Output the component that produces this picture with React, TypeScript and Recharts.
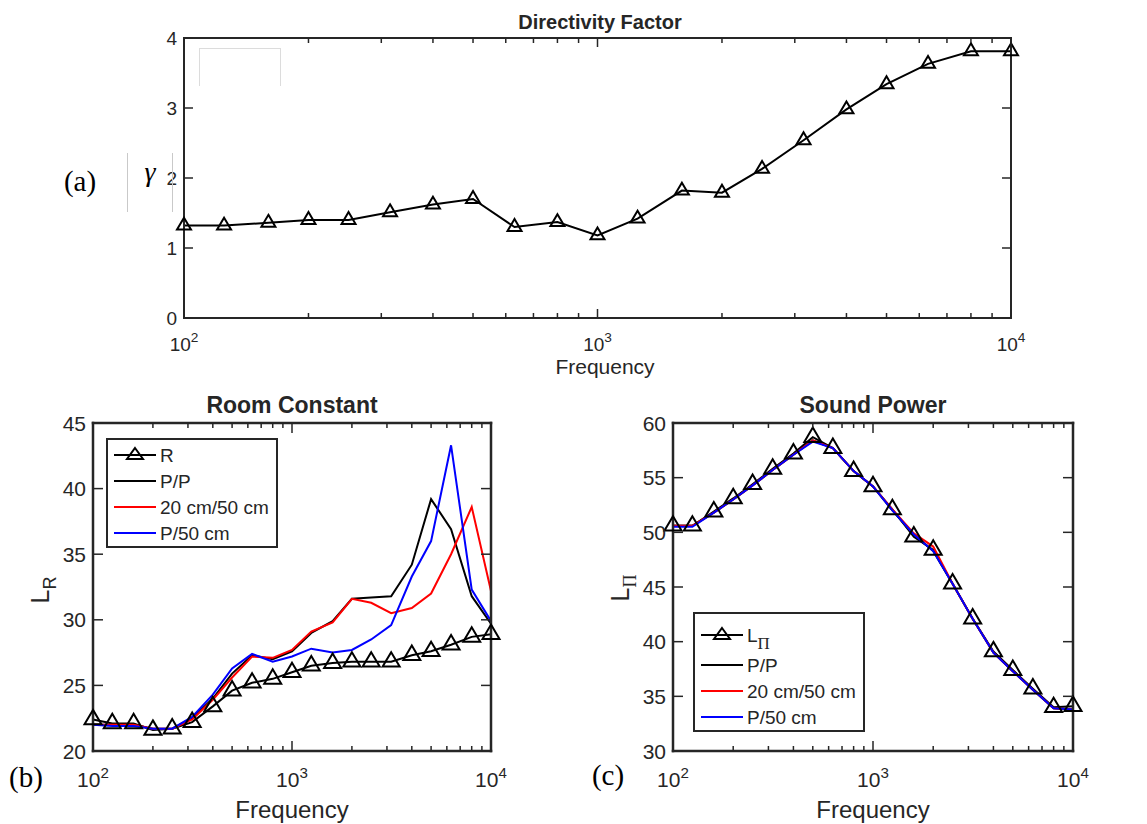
import React from 'react';
import { LineChart, Line, XAxis, YAxis, Legend } from 'recharts';

// 1/3-octave band centre frequencies (Hz)
const FREQ = [100, 125, 160, 200, 250, 315, 400, 500, 630, 800, 1000, 1250, 1600, 2000, 2500, 3150, 4000, 5000, 6300, 8000, 10000];

// (a) directivity factor
const GAMMA = [1.32, 1.32, 1.36, 1.4, 1.4, 1.51, 1.62, 1.7, 1.3, 1.37, 1.18, 1.42, 1.82, 1.79, 2.13, 2.54, 2.98, 3.34, 3.63, 3.81, 3.81];

// (b) room constant levels
const ROOM_R = [22.4, 22.1, 22.1, 21.6, 21.7, 22.2, 23.4, 24.6, 25.2, 25.5, 26.0, 26.5, 26.7, 26.8, 26.8, 26.8, 27.3, 27.6, 28.1, 28.7, 28.9];
const ROOM_PP = [22.0, 22.0, 22.0, 21.7, 21.7, 22.5, 24.0, 25.9, 27.3, 27.0, 27.6, 29.0, 29.9, 31.6, 31.7, 31.8, 34.2, 39.2, 36.9, 31.8, 29.7];
const ROOM_20_50 = [22.0, 22.0, 22.0, 21.7, 21.7, 22.4, 23.9, 25.6, 27.2, 27.1, 27.7, 29.1, 29.8, 31.6, 31.3, 30.5, 30.9, 32.0, 35.0, 38.6, 32.2];
const ROOM_P_50 = [22.0, 21.9, 21.9, 21.7, 21.7, 22.6, 24.3, 26.3, 27.4, 26.8, 27.2, 27.8, 27.5, 27.7, 28.5, 29.6, 33.3, 36.0, 43.3, 32.3, 29.9];

// (c) sound power levels
const POWER_L = [50.6, 50.6, 51.9, 53.1, 54.4, 55.8, 57.2, 58.7, 57.7, 55.6, 54.2, 52.1, 49.6, 48.4, 45.3, 42.1, 39.1, 37.4, 35.7, 34.0, 34.1];
const POWER_PP = [50.6, 50.6, 51.8, 53.0, 54.3, 55.7, 57.1, 58.4, 57.7, 55.6, 54.2, 52.0, 49.8, 48.3, 45.3, 42.1, 39.0, 37.3, 35.6, 33.9, 33.8];
const POWER_20_50 = [50.6, 50.6, 51.8, 53.0, 54.3, 55.7, 57.1, 58.4, 57.7, 55.6, 54.2, 52.1, 49.9, 48.7, 45.3, 42.1, 39.0, 37.3, 35.6, 33.9, 33.8];
const POWER_P_50 = [50.5, 50.5, 51.8, 53.0, 54.3, 55.7, 57.1, 58.3, 57.7, 55.6, 54.2, 52.0, 49.8, 48.3, 45.3, 42.1, 39.0, 37.3, 35.6, 33.9, 33.8];

// ticks
const X_TICKS = [100, 200, 300, 400, 500, 600, 700, 800, 900, 1000, 2000, 3000, 4000, 5000, 6000, 7000, 8000, 9000, 10000];
const GAMMA_TICKS = [0, 1, 2, 3, 4];
const ROOM_TICKS = [20, 25, 30, 35, 40, 45];
const POWER_TICKS = [30, 35, 40, 45, 50, 55, 60];

const dirData = FREQ.map((f, i) => ({ f, gamma: GAMMA[i] }));
const roomData = FREQ.map((f, i) => ({ f, r: ROOM_R[i], pp: ROOM_PP[i], a: ROOM_20_50[i], b: ROOM_P_50[i] }));
const powerData = FREQ.map((f, i) => ({ f, l: POWER_L[i], pp: POWER_PP[i], a: POWER_20_50[i], b: POWER_P_50[i] }));

const roomSeries = [
  { key: 'r', name: 'R', sub: '', color: '#000000', marker: true },
  { key: 'pp', name: 'P/P', sub: '', color: '#000000', marker: false },
  { key: 'a', name: '20 cm/50 cm', sub: '', color: '#ff0000', marker: false },
  { key: 'b', name: 'P/50 cm', sub: '', color: '#0000ff', marker: false },
];
const powerSeries = [
  { key: 'l', name: 'L', sub: '\u03A0', color: '#000000', marker: true },
  { key: 'pp', name: 'P/P', sub: '', color: '#000000', marker: false },
  { key: 'a', name: '20 cm/50 cm', sub: '', color: '#ff0000', marker: false },
  { key: 'b', name: 'P/50 cm', sub: '', color: '#0000ff', marker: false },
];

const AXIS = '#262626';
const SANS = '"Liberation Sans", Arial, Helvetica, sans-serif';
const SERIF = '"Liberation Serif", "Times New Roman", serif';

const isDecade = (v: number) => Math.abs(Math.log10(v) - Math.round(Math.log10(v))) < 1e-9;

// inward MATLAB-style tick marks on the x axes; labels only on the bottom one
const makeXTick = (side: 'bottom' | 'top', major: number, minor: number, fontSize: number, gap: number) => (props: any) => {
  const { x, y, payload } = props;
  const v = payload.value;
  const big = isDecade(v);
  const dir = side === 'bottom' ? -1 : 1;
  return (
    <g>
      <line x1={x} y1={y} x2={x} y2={y + dir * (big ? major : minor)} stroke={AXIS} strokeWidth={1.5} />
      {side === 'bottom' && big && (
        <text x={x} y={y + gap} textAnchor="middle" fontSize={fontSize} fill={AXIS} fontFamily={SANS}>
          10
          <tspan dy={-fontSize * 0.45} fontSize={fontSize * 0.72}>{Math.round(Math.log10(v))}</tspan>
        </text>
      )}
    </g>
  );
};

const makeYTick = (side: 'left' | 'right', len: number, fontSize: number) => (props: any) => {
  const { x, y, payload } = props;
  const dir = side === 'left' ? 1 : -1;
  return (
    <g>
      <line x1={x} y1={y} x2={x + dir * len} y2={y} stroke={AXIS} strokeWidth={1.5} />
      {side === 'left' && (
        <text x={x - 7} y={y} dy="0.36em" textAnchor="end" fontSize={fontSize} fill={AXIS} fontFamily={SANS}>
          {payload.value}
        </text>
      )}
    </g>
  );
};

const makeTriangle = (w: number) => (props: any) => {
  const { cx, cy, index } = props;
  if (cx == null || cy == null) return <g key={index} />;
  const h = w * 0.85;
  const d = `M${cx},${cy - (2 * h) / 3} L${cx + w / 2},${cy + h / 3} L${cx - w / 2},${cy + h / 3} Z`;
  return <path key={index} d={d} fill="none" stroke="#000" strokeWidth={2} strokeLinejoin="miter" />;
};

const Text = ({ x, y, size, bold, serif, italic, children, rotate }: any) => (
  <div
    style={{
      position: 'absolute',
      left: x,
      top: y,
      transform: `translate(-50%, -50%)${rotate ? ' rotate(-90deg)' : ''}`,
      fontFamily: serif ? SERIF : SANS,
      fontSize: size,
      fontWeight: bold ? 'bold' : 'normal',
      fontStyle: italic ? 'italic' : 'normal',
      color: serif ? '#000' : AXIS,
      whiteSpace: 'nowrap',
      lineHeight: 1,
    }}
  >
    {children}
  </div>
);

const makeLegend = (series: any[], rowHeights: number[], padTop: number, w: number, h: number) => (props: any) => {
  const payload = props.payload || [];
  return (
    <div
      style={{
        width: w,
        height: h,
        boxSizing: 'border-box',
        border: `2px solid ${AXIS}`,
        background: '#fff',
        paddingTop: padTop,
        fontFamily: SANS,
        fontSize: 19,
        color: AXIS,
      }}
    >
      {series.map((s, i) => {
        const entry = payload.find((p: any) => p.dataKey === s.key);
        const color = entry ? entry.color : s.color;
        return (
          <div key={s.key} style={{ height: rowHeights[i], display: 'flex', alignItems: 'center' }}>
            <svg width={50} height={20} style={{ flex: 'none' }}>
              <line x1={6} y1={10} x2={48} y2={10} stroke={color} strokeWidth={2} />
              {s.marker && <path d="M27,3 L35,14 L19,14 Z" fill="none" stroke="#000" strokeWidth={2} />}
            </svg>
            <span style={{ marginLeft: 2, lineHeight: 1 }}>
              {s.name}
              {s.sub && (
                <span style={{ fontFamily: SERIF, fontSize: 17, position: 'relative', top: 7 }}>{s.sub}</span>
              )}
            </span>
          </div>
        );
      })}
    </div>
  );
};

const RoomLegend = makeLegend(roomSeries, [26, 26, 26, 26], 2, 172, 110);
const PowerLegend = makeLegend(powerSeries, [34, 26, 26, 26], 4, 172, 120);

export default function App() {
  const frame = { stroke: AXIS, strokeWidth: 2, strokeLinecap: 'square' as const };
  const frameB = { stroke: AXIS, strokeWidth: 2.5, strokeLinecap: 'square' as const };
  return (
    <div style={{ position: 'absolute', left: 0, top: 0, width: 1147, height: 824, background: '#fff', overflow: 'hidden' }}>
      {/* (a) Directivity Factor */}
      <div style={{ position: 'absolute', left: 0, top: 0 }}>
        <LineChart width={1147} height={390} data={dirData} margin={{ top: 37, right: 135, bottom: 42, left: 144 }}>
          <XAxis dataKey="f" type="number" scale="log" domain={[100, 10000]} ticks={X_TICKS} interval={0}
            height={30} tickSize={0} tickMargin={0} tickLine={false} axisLine={frame} tick={makeXTick('bottom', 9, 5, 19, 33)} />
          <XAxis xAxisId="top" orientation="top" dataKey="f" type="number" scale="log" domain={[100, 10000]} allowDataOverflow
            ticks={X_TICKS} interval={0} height={1} tickSize={0} tickMargin={0} tickLine={false} axisLine={frame} tick={makeXTick('top', 9, 5, 19, 0)} />
          <YAxis type="number" domain={[0, 4]} ticks={GAMMA_TICKS} interval={0} width={40} tickSize={0} tickMargin={0}
            tickLine={false} axisLine={frame} tick={makeYTick('left', 9, 19)} />
          <YAxis yAxisId="right" orientation="right" type="number" domain={[0, 4]} allowDataOverflow ticks={GAMMA_TICKS} interval={0}
            width={1} tickSize={0} tickMargin={0} tickLine={false} axisLine={frame} tick={makeYTick('right', 9, 19)} />
          <Line type="linear" dataKey="gamma" name="γ" stroke="#000" strokeWidth={2} dot={makeTriangle(14)} activeDot={false} isAnimationActive={false} />
        </LineChart>
      </div>
      <Text x={600} y={22} size={20} bold>Directivity Factor</Text>
      <Text x={605} y={366} size={21}>Frequency</Text>
      <Text x={80} y={181} size={29} serif>(a)</Text>
      <Text x={150} y={172} size={28} serif italic>γ</Text>
      <div style={{ position: 'absolute', left: 127, top: 153, width: 1, height: 59, background: '#c9c9c9' }} />
      <div style={{ position: 'absolute', left: 172, top: 153, width: 1, height: 59, background: '#c9c9c9' }} />
      <div style={{ position: 'absolute', left: 199, top: 48, width: 80, height: 37, borderTop: '1px solid #dcdcdc', borderLeft: '1px solid #dcdcdc', borderRight: '1px solid #dcdcdc' }} />

      {/* (b) Room Constant */}
      <div style={{ position: 'absolute', left: 0, top: 390 }}>
        <LineChart width={570} height={434} data={roomData} margin={{ top: 32, right: 78, bottom: 33, left: 43 }}>
          <XAxis dataKey="f" type="number" scale="log" domain={[100, 10000]} ticks={X_TICKS} interval={0}
            height={40} tickSize={0} tickMargin={0} tickLine={false} axisLine={frameB} tick={makeXTick('bottom', 10, 5, 21, 36)} />
          <XAxis xAxisId="top" orientation="top" dataKey="f" type="number" scale="log" domain={[100, 10000]} allowDataOverflow
            ticks={X_TICKS} interval={0} height={1} tickSize={0} tickMargin={0} tickLine={false} axisLine={frameB} tick={makeXTick('top', 10, 5, 21, 0)} />
          <YAxis type="number" domain={[20, 45]} ticks={ROOM_TICKS} interval={0} width={50} tickSize={0} tickMargin={0}
            tickLine={false} axisLine={frameB} tick={makeYTick('left', 10, 21)} />
          <YAxis yAxisId="right" orientation="right" type="number" domain={[20, 45]} allowDataOverflow ticks={ROOM_TICKS} interval={0}
            width={1} tickSize={0} tickMargin={0} tickLine={false} axisLine={frameB} tick={makeYTick('right', 10, 21)} />
          {roomSeries.map((s) => (
            <Line key={s.key} type="linear" dataKey={s.key} name={s.name} stroke={s.color} strokeWidth={2}
              dot={s.marker ? makeTriangle(17) : false} activeDot={false} isAnimationActive={false} />
          ))}
          <Legend layout="vertical" align="center" verticalAlign="middle" content={RoomLegend}
            wrapperStyle={{ left: 106, top: 48, width: 172, height: 110 }} />
        </LineChart>
      </div>
      <Text x={292} y={405} size={23} bold>Room Constant</Text>
      <Text x={292} y={810} size={24}>Frequency</Text>
      <Text x={40} y={590} size={25} rotate>
        L<span style={{ fontSize: 18, position: 'relative', top: 7 }}>R</span>
      </Text>
      <Text x={26} y={777} size={29} serif>(b)</Text>

      {/* (c) Sound Power */}
      <div style={{ position: 'absolute', left: 570, top: 390 }}>
        <LineChart width={577} height={434} data={powerData} margin={{ top: 32, right: 73, bottom: 33, left: 53 }}>
          <XAxis dataKey="f" type="number" scale="log" domain={[100, 10000]} ticks={X_TICKS} interval={0}
            height={40} tickSize={0} tickMargin={0} tickLine={false} axisLine={frameB} tick={makeXTick('bottom', 10, 5, 21, 36)} />
          <XAxis xAxisId="top" orientation="top" dataKey="f" type="number" scale="log" domain={[100, 10000]} allowDataOverflow
            ticks={X_TICKS} interval={0} height={1} tickSize={0} tickMargin={0} tickLine={false} axisLine={frameB} tick={makeXTick('top', 10, 5, 21, 0)} />
          <YAxis type="number" domain={[30, 60]} ticks={POWER_TICKS} interval={0} width={50} tickSize={0} tickMargin={0}
            tickLine={false} axisLine={frameB} tick={makeYTick('left', 10, 21)} />
          <YAxis yAxisId="right" orientation="right" type="number" domain={[30, 60]} allowDataOverflow ticks={POWER_TICKS} interval={0}
            width={1} tickSize={0} tickMargin={0} tickLine={false} axisLine={frameB} tick={makeYTick('right', 10, 21)} />
          {powerSeries.map((s) => (
            <Line key={s.key} type="linear" dataKey={s.key} name={s.name + s.sub} stroke={s.color} strokeWidth={2}
              dot={s.marker ? makeTriangle(17) : false} activeDot={false} isAnimationActive={false} />
          ))}
          <Legend layout="vertical" align="center" verticalAlign="middle" content={PowerLegend}
            wrapperStyle={{ left: 123, top: 222, width: 172, height: 120 }} />
        </LineChart>
      </div>
      <Text x={873} y={405} size={23} bold>Sound Power</Text>
      <Text x={873} y={810} size={24}>Frequency</Text>
      <Text x={620} y={588} size={25} rotate>
        L<span style={{ fontFamily: SERIF, fontSize: 18, position: 'relative', top: 7 }}>{'\u03A0'}</span>
      </Text>
      <Text x={608} y={775} size={29} serif>(c)</Text>
    </div>
  );
}
